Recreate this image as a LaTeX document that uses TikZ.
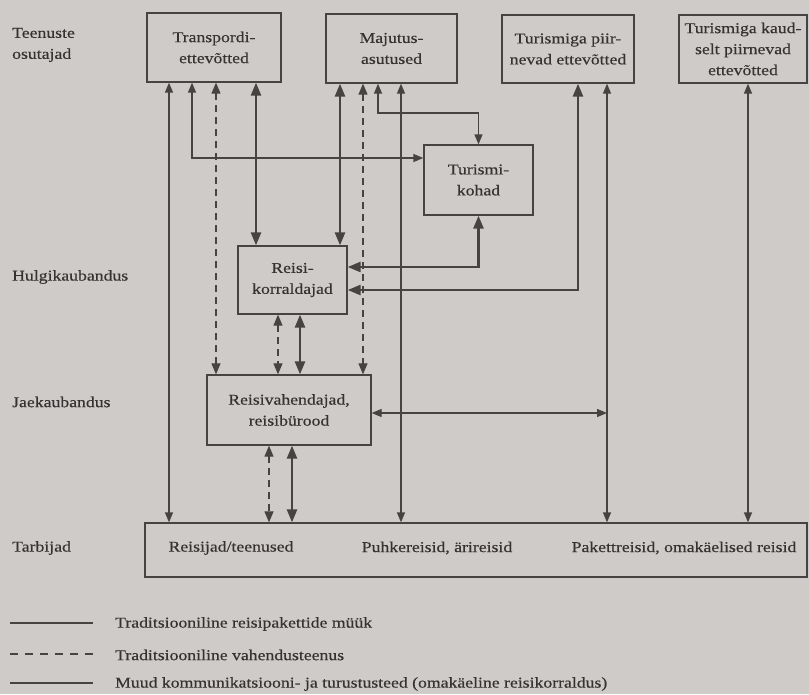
\documentclass[tikz,border=0pt]{standalone}
\usepackage{fontspec}
\setmainfont[FakeStretch=1.18,FakeBold=0.4]{Liberation Serif}
\usetikzlibrary{arrows.meta}
\definecolor{bg}{RGB}{207,203,201}
\definecolor{ink}{RGB}{72,67,67}
\definecolor{txt}{RGB}{55,50,50}
\begin{document}
\begin{tikzpicture}[x=1pt,y=-1pt,
  fnt/.style={font=\fontsize{15}{21}\selectfont},
  box/.style={draw=ink, line width=1.3pt, inner sep=0pt, align=center, text=txt, fnt},
  lbl/.style={text=txt, fnt, align=left, anchor=west, inner sep=0pt},
  ctext/.style={text=txt, fnt, inner sep=0pt},
  thinc/.style={draw=ink, line width=1.3pt, {Triangle[length=10pt,width=8pt]}-{Triangle[length=10pt,width=8pt]}},
  thickc/.style={draw=ink, line width=2.6pt, {Triangle[length=13pt,width=10pt]}-{Triangle[length=13pt,width=10pt]}},
  dashc/.style={draw=ink, line width=1.2pt, dash pattern=on 7pt off 5pt, {Triangle[length=11pt,width=9pt]}-{Triangle[length=11pt,width=9pt]}},
  legthick/.style={draw=ink, line width=2.8pt},
  legdash/.style={draw=ink, line width=1.2pt, dash pattern=on 8pt off 7pt},
  legthin/.style={draw=ink, line width=1.8pt}
]
\fill[bg] (0,0) rectangle (809,694);

% boxes
\node[box, minimum width=134pt, minimum height=69pt] (trans) at (214,47.5) {Transpordi-\\ettevõtted};
\node[box, minimum width=131pt, minimum height=69pt] (maj) at (391.5,48.5) {Majutus-\\asutused};
\node[box, minimum width=132pt, minimum height=68pt] (piir) at (568,49) {Turismiga piir-\\nevad ettevõtted};
\node[box, minimum width=128pt, minimum height=68pt] (kaud) at (743,49) {Turismiga kaud-\\selt piirnevad\\ettevõtted};
\node[box, minimum width=109pt, minimum height=70pt] (koh) at (478.5,180) {Turismi-\\kohad};
\node[box, minimum width=109pt, minimum height=68pt] (korr) at (292.5,280) {Reisi-\\korraldajad};
\node[box, minimum width=164pt, minimum height=70pt] (vah) at (289,410) {Reisivahendajad,\\reisibürood};
\node[box, minimum width=662pt, minimum height=54pt] (tarb) at (476,550) {};
\node[ctext] (t1) at (231,548) {Reisijad/teenused};
\node[ctext] (t2) at (437,548) {Puhkereisid, ärireisid};
\node[ctext] (t3) at (684,548) {Pakettreisid, omakäelised reisid};

% side labels
\node[lbl] (l1) at (12,45) {Teenuste\\osutajad};
\node[lbl] (l2) at (12,277) {Hulgikaubandus};
\node[lbl] (l3) at (12,402) {Jaekaubandus};
\node[lbl] (l4) at (12,548) {Tarbijad};

% helper coordinates
\coordinate (xA) at (169,0);
\coordinate (xB) at (192,0);
\coordinate (xC) at (216,0);
\coordinate (xD) at (256,0);
\coordinate (xE) at (340,0);
\coordinate (xF) at (363,0);
\coordinate (xG) at (378,0);
\coordinate (xH) at (401,0);
\coordinate (xI) at (578,0);
\coordinate (xL) at (607,0);
\coordinate (xM) at (748,0);
\coordinate (xN) at (278,0);
\coordinate (xO) at (300,0);
\coordinate (xP) at (269,0);
\coordinate (xQ) at (292,0);
\coordinate (yB) at (0,158);
\coordinate (yG) at (0,113);
\coordinate (yI) at (0,290);
\coordinate (yJ) at (0,267);
\coordinate (rL) at (607,413);

% connectors
\draw[thinc] (trans.south -| xA) -- (tarb.north -| xA);
\draw[thinc] (trans.south -| xB) |- (koh.west |- yB);
\draw[dashc] (trans.south -| xC) -- (vah.north -| xC);
\draw[thickc] (trans.south -| xD) -- (korr.north -| xD);
\draw[thickc] (maj.south -| xE) -- (korr.north -| xE);
\draw[dashc] (maj.south -| xF) -- (vah.north -| xF);
\draw[thinc] (maj.south -| xG) |- (koh.north |- yG) -- (koh.north);
\draw[thinc] (maj.south -| xH) -- (tarb.north -| xH);
\draw[thickc] (piir.south -| xI) |- (korr.east |- yI);
\draw[thinc] (piir.south -| xL) -- (tarb.north -| xL);
\draw[thinc] (kaud.south -| xM) -- (tarb.north -| xM);
\draw[thickc] (koh.south) |- (korr.east |- yJ);
\draw[dashc] (korr.south -| xN) -- (vah.north -| xN);
\draw[thickc] (korr.south -| xO) -- (vah.north -| xO);
\draw[dashc] (vah.south -| xP) -- (tarb.north -| xP);
\draw[thickc] (vah.south -| xQ) -- (tarb.north -| xQ);
\draw[thinc] (vah.east |- rL) -- (rL);

% legend
\coordinate (g1a) at (10,623); \coordinate (g1b) at (93,623);
\coordinate (g2a) at (10,654); \coordinate (g2b) at (93,654);
\coordinate (g3a) at (10,683); \coordinate (g3b) at (93,683);
\draw[legthick] (g1a) -- (g1b);
\draw[legdash] (g2a) -- (g2b);
\draw[legthin] (g3a) -- (g3b);
\node[lbl] (e1) at (115,624) {Traditsiooniline reisipakettide müük};
\node[lbl] (e2) at (115,655) {Traditsiooniline vahendusteenus};
\node[lbl] (e3) at (115,684) {Muud kommunikatsiooni- ja turustusteed (omakäeline reisikorraldus)};
\end{tikzpicture}
\end{document}
